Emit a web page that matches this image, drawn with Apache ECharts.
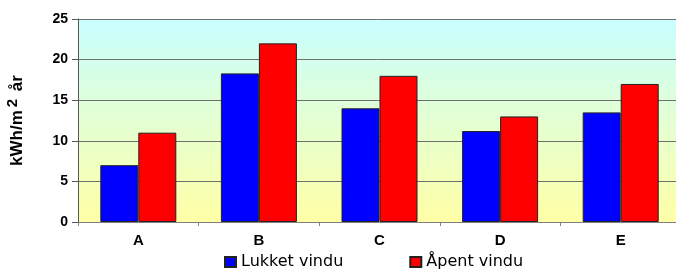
<!DOCTYPE html>
<html>

<head>
    <meta charset="utf-8">
    <script src="https://cdn.jsdelivr.net/npm/echarts@6/dist/echarts.min.js"></script>
    <title>kWh/m2 år</title>
    <style type="text/css">
        html, body { margin: 0; padding: 0; background: #ffffff; }
    </style>
</head>

<body>
    <div id="main" style="width:676px; height:270px;"></div>
    <script type="text/javascript">
        var categories = ['A', 'B', 'C', 'D', 'E'];
        var lukketVindu = [7, 18.3, 14, 11.2, 13.5];
        var apentVindu = [11, 22, 18, 13, 17];
        var seriesNames = ['Lukket vindu', 'Åpent vindu'];

        var myChart = echarts.init(document.getElementById('main'));

        var barBorder = { borderColor: '#222222', borderWidth: 1 };

        var option = {
            animation: false,
            backgroundColor: '#ffffff',
            grid: {
                left: 78,
                top: 19,
                width: 603,
                height: 203,
                outerBoundsMode: 'none',
                containLabel: false,
                show: true,
                borderWidth: 0,
                backgroundColor: new echarts.graphic.LinearGradient(0, 0, 0, 1, [
                    { offset: 0, color: '#c8ffff' },
                    { offset: 1, color: '#ffffa6' }
                ])
            },
            legend: {
                top: 249,
                left: 219,
                itemWidth: 11,
                itemHeight: 10,
                itemGap: 66,
                icon: 'rect',
                textStyle: { fontFamily: 'DejaVu Sans', fontSize: 16, color: '#000' },
                data: seriesNames
            },
            xAxis: {
                type: 'category',
                data: categories,
                axisLine: { lineStyle: { color: '#808080', width: 1 } },
                axisTick: { show: true, length: 4, lineStyle: { color: '#808080' } },
                axisLabel: {
                    margin: 11,
                    fontFamily: 'Liberation Sans',
                    fontSize: 15,
                    fontWeight: 'bold',
                    color: '#000'
                }
            },
            yAxis: {
                type: 'value',
                min: 0,
                max: 25,
                interval: 5,
                name: 'kWh/m{sup|2} år',
                nameLocation: 'middle',
                nameRotate: 90,
                nameGap: 48,
                nameTextStyle: {
                    fontFamily: 'Liberation Sans',
                    fontSize: 17,
                    fontWeight: 'bold',
                    color: '#000',
                    rich: {
                        sup: {
                            fontFamily: 'Liberation Sans',
                            fontSize: 15,
                            fontWeight: 'bold',
                            verticalAlign: 'top',
                            padding: [0, 3, 10, 3]
                        }
                    }
                },
                axisLine: { show: true, lineStyle: { color: '#555555', width: 1 } },
                axisTick: { show: true, length: 6, lineStyle: { color: '#555555' } },
                axisLabel: {
                    margin: 10,
                    fontFamily: 'Liberation Sans',
                    fontSize: 14,
                    fontWeight: 'bold',
                    color: '#000'
                },
                splitLine: { lineStyle: { color: '#6f6f6f', width: 1 } }
            },
            series: [
                {
                    name: seriesNames[0],
                    type: 'bar',
                    data: lukketVindu,
                    barWidth: 38,
                    barGap: '0%',
                    itemStyle: Object.assign({ color: '#0000ff' }, barBorder)
                },
                {
                    name: seriesNames[1],
                    type: 'bar',
                    data: apentVindu,
                    barWidth: 38,
                    barGap: '0%',
                    itemStyle: Object.assign({ color: '#ff0000' }, barBorder)
                }
            ]
        };

        myChart.setOption(option);
    </script>
</body>

</html>
